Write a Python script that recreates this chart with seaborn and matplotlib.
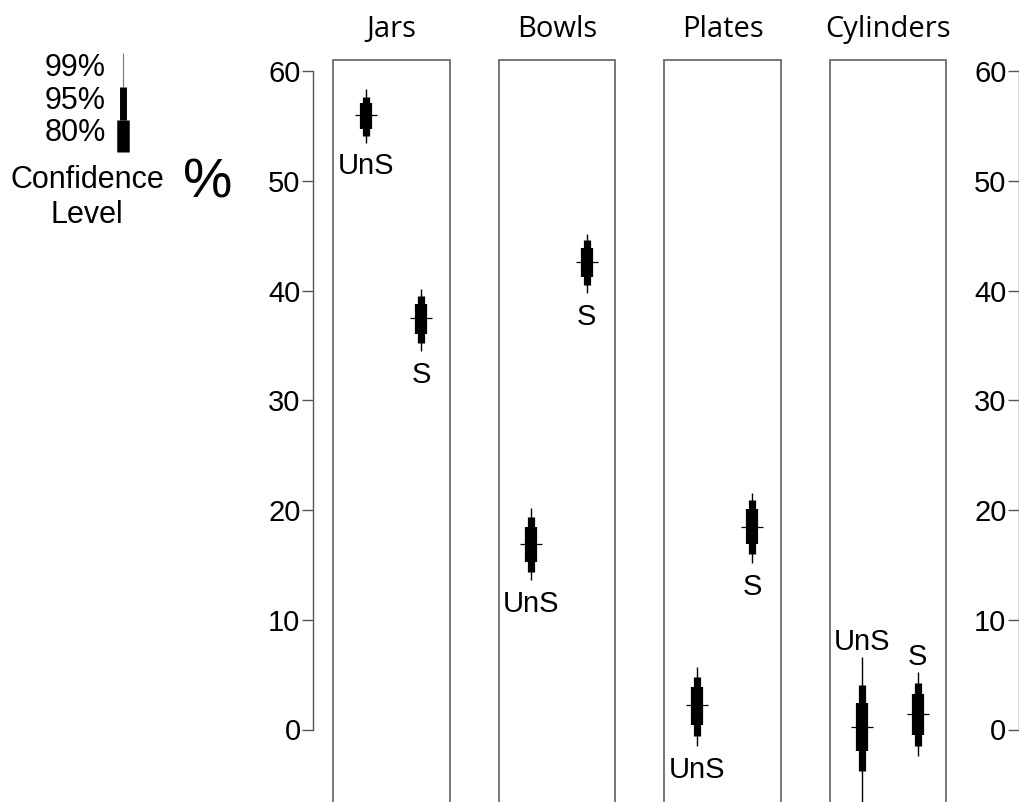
import numpy as np
import pandas as pd
import matplotlib
matplotlib.use("Agg")
import matplotlib.pyplot as plt
from matplotlib.patches import Rectangle
import seaborn as sns

# ---------------- data ----------------
categories = ["Jars", "Bowls", "Plates", "Cylinders"]
groups = ["UnS", "S"]
# order: Jars UnS, Jars S, Bowls UnS, Bowls S, Plates UnS, Plates S, Cyl UnS, Cyl S
estimate = [56.0, 37.5, 16.9, 42.6, 2.2, 18.5, 0.2, 1.4]
ci80_low = [54.8, 36.1, 15.3, 41.3, 0.4, 16.9, -2.0, -0.5]
ci80_high = [57.1, 38.8, 18.5, 43.9, 3.9, 20.1, 2.4, 3.2]
ci95_low = [54.1, 35.2, 14.4, 40.5, -0.6, 16.0, -3.8, -1.5]
ci95_high = [57.7, 39.5, 19.4, 44.6, 4.8, 20.9, 4.1, 4.2]
ci99_low = [53.5, 34.5, 13.6, 39.8, -1.5, 15.2, -6.6, -2.4]
ci99_high = [58.4, 40.2, 20.2, 45.2, 5.7, 21.6, 6.6, 5.2]
label_side = ["below", "below", "below", "below", "below", "below", "above", "above"]
y_ticks = [0, 10, 20, 30, 40, 50, 60]
legend_levels = ["99%", "95%", "80%"]

# ---------------- style ----------------
sns.set_theme(style="white")
plt.rcParams["font.family"] = ["Liberation Sans", "DejaVu Sans"]

W, H = 1020, 802
fig = plt.figure(figsize=(W / 100, H / 100), dpi=100)

# pixel geometry helpers (layout only)
px_per_unit = 10.967
zero_px = 729.5
spacing_px = 165.5
center0_px = 391.5
left_px, right_px = 313, 1019

ylo = -(H - zero_px) / px_per_unit
yhi = zero_px / px_per_unit
xlo = (left_px - center0_px) / spacing_px
xhi = (right_px - center0_px) / spacing_px

ax = fig.add_axes([left_px / W, 0, (right_px - left_px) / W, 1])
ax.set_xlim(xlo, xhi)
ax.set_ylim(ylo, yhi)
ax.patch.set_alpha(0)

df = pd.DataFrame({
    "category": np.repeat(categories, 2),
    "group": groups * 4,
    "est": estimate,
    "lo80": ci80_low, "hi80": ci80_high,
    "lo95": ci95_low, "hi95": ci95_high,
    "lo99": ci99_low, "hi99": ci99_high,
    "side": label_side,
})
offsets = {"UnS": -0.155, "S": 0.18}
df["x"] = [categories.index(c) + offsets[g] for c, g in zip(df["category"], df["group"])]

# panel boxes
top_val = (zero_px - 60) / px_per_unit
box_half = 0.353
for i, cat in enumerate(categories):
    ax.add_patch(Rectangle((i - box_half, ylo - 5), 2 * box_half, top_val - ylo + 5,
                           fill=False, edgecolor="#6b6b6b", linewidth=1.3, zorder=1))
    ax.text(i, (zero_px - 37) / px_per_unit, cat, ha="center", va="baseline",
            fontsize=21, family=["Open Sans", "DejaVu Sans"], color="black", clip_on=False)

# intervals
ax.vlines(df["x"], df["lo99"], df["hi99"], colors="black", linewidth=1.0, capstyle="butt", zorder=3)
ax.vlines(df["x"], df["lo95"], df["hi95"], colors="black", linewidth=5.2, capstyle="butt", zorder=3)
ax.vlines(df["x"], df["lo80"], df["hi80"], colors="black", linewidth=8.8, capstyle="butt", zorder=3)
sns.scatterplot(data=df, x="x", y="est", marker="_", s=250, color="black",
                linewidth=0.9, ax=ax, zorder=4, legend=False)

for _, r in df.iterrows():
    if r["side"] == "below":
        ax.annotate(r["group"], (r["x"], r["lo99"]), xytext=(0, -7), textcoords="offset points",
                    ha="center", va="top", fontsize=21, color="black")
    else:
        ax.annotate(r["group"], (r["x"], r["hi99"]), xytext=(0, 1), textcoords="offset points",
                    ha="center", va="bottom", fontsize=21, color="black")

# left axis
for s in ["top", "right", "bottom"]:
    ax.spines[s].set_visible(False)
ax.spines["left"].set_bounds(0, 60)
ax.spines["left"].set_color("#555555")
ax.spines["left"].set_linewidth(1.0)
ax.set_xticks([])
ax.set_yticks(y_ticks)
ax.tick_params(axis="y", direction="out", length=8, width=1, color="#555555",
               labelsize=21, pad=1, left=True, labelcolor="black")
ax.set_xlabel("")
ax.set_ylabel("")

# right axis
ax2 = fig.add_axes([right_px / W, 0, 0.0001, 1])
ax2.set_ylim(ylo, yhi)
ax2.patch.set_alpha(0)
for s in ["top", "right", "bottom"]:
    ax2.spines[s].set_visible(False)
ax2.spines["left"].set_bounds(0, 60)
ax2.spines["left"].set_color("#555555")
ax2.spines["left"].set_linewidth(1.0)
ax2.set_xticks([])
ax2.set_yticks(y_ticks)
ax2.tick_params(axis="y", direction="out", length=8, width=1, color="#555555",
                labelsize=21, pad=1, left=True, labelcolor="black")

# legend key
leg_x = (123 - center0_px) / spacing_px
def pv(p):
    return (zero_px - p) / px_per_unit
ax.vlines([leg_x], [pv(87)], [pv(53)], colors="#777777", linewidth=0.8, clip_on=False)
ax.vlines([leg_x], [pv(120)], [pv(87)], colors="black", linewidth=5.0, capstyle="butt", clip_on=False)
ax.vlines([leg_x], [pv(152)], [pv(120)], colors="black", linewidth=9.0, capstyle="butt", clip_on=False)
for lab, ypx in zip(legend_levels, [68, 101, 133]):
    fig.text(106 / W, 1 - ypx / H, lab, ha="right", va="center", fontsize=22, color="black")
fig.text(87 / W, 1 - 180 / H, "Confidence", ha="center", va="center", fontsize=22, color="black")
fig.text(87 / W, 1 - 215 / H, "Level", ha="center", va="center", fontsize=22, color="black")
fig.text(208 / W, 1 - 184 / H, "%", ha="center", va="center", fontsize=40, color="black")

fig.savefig("out.png", dpi=100, facecolor="white")
